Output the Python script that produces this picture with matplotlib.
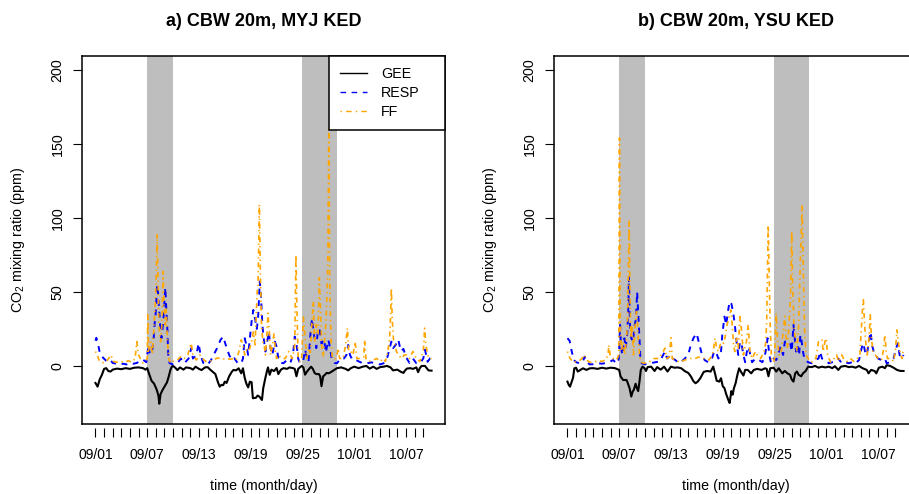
import pandas as pd
import matplotlib.pyplot as plt
from matplotlib.lines import Line2D

plt.rcParams['font.family'] = ['Liberation Sans', 'DejaVu Sans']
plt.rcParams['mathtext.fontset'] = 'custom'
plt.rcParams['mathtext.rm'] = 'Liberation Sans'
plt.rcParams['mathtext.default'] = 'rm'

# time axis: days since 09/01 00:00 (hourly run ends 10/09 23:00)
start = pd.Timestamp('2020-09-01')
t_end = 38.96
tick_days = list(range(39))
label_every = 6
shade_days = [(6, 9), (24, 28)]

# ---- a) CBW 20m, MYJ KED ----
gee_myj_t = [0.0, 0.25, 0.5, 0.75, 1.0, 1.25, 1.5, 1.75, 2.0, 2.5, 3.0, 3.5, 4.0, 4.5, 5.0, 5.5, 5.8,
             6.0, 6.2, 6.5, 6.8, 7.1, 7.3, 7.4, 7.55, 7.8, 8.0, 8.3, 8.5, 8.7, 8.85, 9.0, 9.3, 9.5,
             9.8, 10.2, 10.5, 11.0, 11.3, 11.6, 12.0, 12.3, 12.7, 13.0, 13.3, 13.6, 13.9, 14.2,
             14.4, 14.6, 14.8, 15.0, 15.2, 15.5, 15.8, 16.0, 16.3, 16.6, 16.9, 17.1, 17.3, 17.5,
             17.7, 17.9, 18.1, 18.25, 18.6, 18.8, 19.0, 19.3, 19.45, 19.7, 19.9, 20.0, 20.2, 20.4,
             20.7, 21.0, 21.2, 21.5, 21.8, 22.2, 22.5, 22.9, 23.1, 23.3, 23.5, 23.9, 24.1, 24.3,
             24.5, 24.7, 25.0, 25.2, 25.4, 25.6, 25.9, 26.05, 26.2, 26.4, 26.6, 26.8, 27.0, 27.2,
             27.6, 28.0, 28.5, 29.0, 29.3, 29.6, 30.0, 30.5, 31.0, 31.4, 31.8, 32.2, 32.6, 33.0,
             33.4, 33.8, 34.2, 34.5, 35.0, 35.4, 35.7, 35.9, 36.1, 36.5, 36.8, 37.2, 37.4, 37.6,
             37.8, 38.2, 38.6, 38.96]
gee_myj = [-11.5, -14, -9, -6, -2, -1.5, -3.5, -3.8, -2.5, -1.8, -2.2, -1.5, -2, -1.2, -1, -1.5, -2.5,
           -1.5, -5, -10, -12, -16, -20, -25.5, -19, -16, -14, -11, -7, -2.5, -0.5, 0, -1.5, -2.8,
           -1, -2.5, -1, -1.5, -2.5, -0.5, -2, -2.8, -1, -0.8, -2.5, -4, -5.5, -11,
           -14, -12.8, -13, -10.6, -11.5, -7, -4, -2.7, -3, -1.6, -5, -1.6, -8, -12,
           -14.5, -10.6, -11, -21.8, -21.5, -20, -20.7, -23, -15, -8, -3, -1, -6, -2.5,
           -3.5, -1.4, -5.5, -2.5, -1.5, -2, -1, -1.5, -2, -7, -2, 0, -1, -5.9,
           -4, -2.5, -0.5, -2, -4.7, -5.5, -5.5, -7, -13.7, -7, -6, -4.7, -5, -4.5,
           -3, -1.5, -1, -2, -3, -1.5, -0.5, -1.5, -0.5, 0, -1.8, -0.5, -2, -0.8,
           -0.5, 0, -1, -3, -2.5, -4, -4.7, -3, -1.8, -1.5, -2, -1, -4.2, -1.5,
           0, 0, -3, -3.2]

resp_myj_t = [0.0, 0.1, 0.3, 0.5, 0.9, 1.3, 1.7, 2.0, 2.4, 2.8, 3.2, 3.6, 4.0, 4.4, 4.8, 5.1, 5.5, 5.9,
              6.0, 6.15, 6.3, 6.55, 6.75, 6.85, 7.0, 7.15, 7.25, 7.4, 7.55, 7.65, 7.85, 8.0, 8.1,
              8.2, 8.35, 8.45, 8.6, 9.0, 9.5, 9.9, 10.3, 10.8, 11.1, 11.3, 11.7, 11.95, 12.2, 12.5,
              12.8, 13.0, 13.4, 13.7, 14.1, 14.5, 14.8, 15.1, 15.5, 15.8, 16.1, 16.5, 16.9, 17.1,
              17.3, 17.5, 17.7, 17.9, 18.1, 18.3, 18.5, 18.7, 18.85, 19.05, 19.2, 19.35, 19.5, 19.7,
              19.9, 20.1, 20.3, 20.5, 20.8, 21.0, 21.2, 21.4, 21.8, 22.2, 22.6, 22.9, 23.1, 23.3,
              23.5, 23.7, 24.1, 24.3, 24.5, 24.7, 24.9, 25.1, 25.3, 25.6, 25.8, 26.0, 26.2, 26.5,
              26.7, 27.0, 27.2, 27.4, 27.7, 28.0, 28.4, 28.8, 29.1, 29.3, 29.5, 29.8, 30.2, 30.6,
              31.0, 31.5, 32.0, 32.5, 33.0, 33.4, 33.8, 34.1, 34.3, 34.5, 34.8, 35.1, 35.4, 35.7,
              36.0, 36.4, 36.8, 37.2, 37.6, 38.0, 38.2, 38.5, 38.8, 38.96]
resp_myj = [17, 19, 15, 8.8, 5.4, 3.2, 4.3, 2, 1.5, 1, 1.5, 1, 2, 1.5, 2, 3.2, 4.3, 2.5,
            7.4, 14, 8, 9, 18.7, 27.7, 36.7, 55, 50, 36.7, 23, 18.7, 29, 43, 53,
            40, 23, 5, 1.8, 1.1, 1.8, 5, 1.8, 5, 12, 5, 7, 15.3, 7, 2,
            1, 0.7, 4, 7.4, 12, 17.6, 19.8, 14.2, 7.4, 4, 5.2, 1.8, 1.8, 5,
            18.7, 14, 7.4, 18.7, 30, 37.8, 32, 25, 32, 57, 45.7, 27.7, 18.7, 9.7,
            16.4, 23, 12, 7.4, 16.4, 13, 5, 2.2, 1.8, 4, 2.2, 7.4, 19.8, 15,
            5, 1.8, 4, 11, 6, 3, 20, 32, 22, 12, 25, 24, 15, 18,
            9, 17.6, 12, 4, 2, 1.8, 5, 5, 7.4, 14.2, 7.4, 4, 4, 2.8,
            1.8, 1.8, 2.4, 1.8, 1, 1.8, 5, 12, 16.4, 12, 14.2, 17.8, 10, 11.5,
            6, 2, 5, 1.8, 1.8, 5, 11, 2.8, 5.2, 5.2]

ff_myj_t = [0.0, 0.2, 0.4, 0.7, 1.0, 1.4, 1.8, 2.1, 2.5, 3.0, 3.4, 3.8, 4.2, 4.6, 4.8, 4.95, 5.2, 5.5,
            5.8, 6.0, 6.07, 6.15, 6.4, 6.6, 6.8, 6.95, 7.05, 7.15, 7.25, 7.35, 7.55, 7.7, 7.85,
            7.95, 8.1, 8.2, 8.35, 8.5, 8.7, 9.0, 9.5, 9.9, 10.3, 10.7, 11.1, 11.3, 11.7, 12.1,
            12.4, 12.8, 13.2, 13.6, 14.0, 14.4, 14.8, 15.2, 15.6, 16.0, 16.3, 16.6, 16.9, 17.1,
            17.3, 17.5, 17.7, 17.9, 18.1, 18.3, 18.5, 18.65, 18.75, 18.85, 19.0, 19.12, 19.25,
            19.4, 19.55, 19.7, 19.85, 20.0, 20.15, 20.3, 20.5, 20.7, 20.85, 21.0, 21.2, 21.6,
            22.0, 22.4, 22.6, 22.8, 23.0, 23.1, 23.24, 23.35, 23.5, 23.7, 23.9, 24.1, 24.3, 24.5,
            24.7, 24.9, 25.1, 25.25, 25.4, 25.6, 25.8, 25.95, 26.1, 26.25, 26.4, 26.55, 26.7,
            26.85, 26.95, 27.05, 27.15, 27.3, 27.45, 27.8, 28.0, 28.15, 28.3, 28.7, 29.0, 29.2,
            29.35, 29.6, 29.85, 30.1, 30.3, 30.7, 31.1, 31.2, 31.35, 31.7, 32.2, 32.6, 33.0,
            33.4, 33.6, 33.9, 34.1, 34.2, 34.3, 34.4, 34.55, 34.7, 34.9, 35.1, 35.5, 35.8, 36.1,
            36.4, 36.8, 37.0, 37.2, 37.6, 38.0, 38.1, 38.15, 38.3, 38.5, 38.7, 38.96]
ff_myj = [9.7, 8, 4, 2.5, 2, 4, 7.4, 3, 2.5, 2.8, 2.5, 3.5, 2.5, 5, 16.4, 8, 5, 2,
          3.5, 5, 34.5, 10, 16, 8, 27.7, 45, 61, 88.5, 61, 27.7, 16.4, 27.7, 63.7,
          41, 27.7, 39, 16.4, 5, 1.8, 3, 4, 6.3, 5, 7.4, 15.3, 7.4, 4, 7.4,
          5, 3, 3, 4, 5, 5.5, 4.7, 5, 4.5, 5, 4, 9, 17.6, 14.2,
          7.4, 10.8, 9.7, 12, 16.4, 23, 14.2, 36.7, 50, 54.7, 109, 61.5, 27.7,
          16.4, 14.2, 7.4, 18.7, 35.6, 23, 7.4, 14.2, 22, 9.7, 5, 7.4, 5,
          5, 9.7, 7.4, 5, 9.7, 14.2, 75, 39, 5, 2.9, 5, 33, 18.7, 5,
          12, 9, 30, 43.7, 16, 27.7, 21, 59.5, 37, 10, 6, 16.4, 27.7,
          48, 80, 160, 60, 18, 5, 5, 7.4, 12, 5, 5, 14.2, 25.5,
          9.7, 9.7, 7.4, 16.4, 5, 5, 6, 17.6, 5, 3, 4, 5, 3,
          5, 3, 9.7, 18.7, 32, 52.5, 32, 17.6, 14.2, 9.7, 7.4, 5, 7.4, 7.4,
          5, 9.7, 7.4, 5, 3, 9.7, 18.7, 25.5, 14.2, 7.4, 5, 5]

# ---- b) CBW 20m, YSU KED ----
gee_ysu_t = [0.0, 0.15, 0.3, 0.5, 0.65, 0.8, 1.0, 1.2, 1.5, 1.8, 2.2, 2.6, 3.0, 3.5, 4.0, 4.5, 5.0, 5.5,
             6.0, 6.15, 6.45, 6.85, 7.0, 7.2, 7.4, 7.55, 7.7, 7.9, 8.05, 8.2, 8.35, 8.5, 8.7,
             8.95, 9.1, 9.3, 9.7, 10.1, 10.4, 10.8, 11.2, 11.6, 12.0, 12.4, 12.8, 13.2, 13.6,
             14.0, 14.3, 14.6, 14.85, 15.1, 15.4, 15.8, 16.2, 16.6, 16.9, 17.1, 17.3, 17.6, 17.8,
             18.0, 18.2, 18.4, 18.65, 18.8, 19.0, 19.15, 19.3, 19.5, 19.7, 19.9, 20.1, 20.4,
             20.6, 20.9, 21.3, 21.6, 22.0, 22.5, 22.9, 23.1, 23.3, 23.5, 23.9, 24.2, 24.5, 24.9,
             25.2, 25.5, 25.8, 26.0, 26.2, 26.4, 26.6, 26.8, 27.1, 27.3, 27.6, 27.9, 28.3, 28.7,
             29.1, 29.5, 29.9, 30.3, 30.7, 31.0, 31.4, 31.7, 32.2, 32.6, 33.0, 33.4, 33.8, 34.2,
             34.7, 34.9, 35.2, 35.6, 35.8, 36.1, 36.5, 36.8, 37.0, 37.4, 37.8, 38.2, 38.6, 38.96]
gee_ysu = [-10.6, -12.8, -14, -10.6, -8, -1.6, -1.2, -3.8, -2.7, -1.6, -2.7, -1.6, -1.5, -2, -1.2, -1.8, -1.2, -1.5,
           -2.7, -7, -9.5, -9.5, -11.7, -15, -20.7, -17.5, -16, -12, -15, -17, -10.6, -2.7, -0.5,
           -1.6, -3.4, -0.8, -0.5, -3.4, -0.8, -2.5, -0.5, -3.8, -0.5, -1.2, -1, -1.6, -3.5,
           -4.7, -7, -10.3, -11.7, -10.6, -8.3, -4, -3.4, -3.8, -0.5, -5, -10, -10.6, -8.3,
           -13.7, -15, -19, -23, -25, -17, -19.4, -15, -11.5, -6, -1.6, -3.8, -6.5,
           -2.7, -2.7, -5, -2.7, -2, -2.7, -1.6, -2, -7, -1.6, -1.2, -3.8, -1.6, -5,
           -3.4, -5, -6, -9.2, -10.6, -5, -3.8, -6, -7, -5, -3.5, -0.5, -0.8, 0,
           -1.2, -0.5, -1, -0.5, -1.5, -0.2, -2.7, -0.5, 0, -0.8, -0.5, -1.2, 0, -1.5,
           -2.7, -5, -2.7, -3.4, -5, -1.2, -0.5, -1.5, 0.5, 0, -1.2, -2.7, -3.4, -3.4]

resp_ysu_t = [0.0, 0.25, 0.5, 0.75, 1.0, 1.4, 1.75, 2.0, 2.2, 2.6, 3.0, 3.5, 4.0, 4.5, 4.9, 5.3, 5.7,
              5.95, 6.1, 6.2, 6.35, 6.6, 6.75, 6.95, 7.07, 7.12, 7.25, 7.4, 7.6, 7.8, 7.95, 8.08,
              8.2, 8.35, 8.45, 8.6, 9.0, 9.6, 10.2, 10.7, 11.1, 11.3, 11.55, 11.8, 12.0, 12.2,
              12.5, 12.9, 13.2, 13.6, 14.0, 14.3, 14.6, 14.97, 15.3, 15.6, 15.9, 16.3, 16.7, 17.0,
              17.2, 17.5, 17.8, 17.95, 18.2, 18.4, 18.6, 18.8, 19.0, 19.2, 19.4, 19.6, 19.8, 20.0,
              20.2, 20.4, 20.6, 20.8, 21.0, 21.2, 21.4, 21.8, 22.2, 22.6, 22.9, 23.1, 23.2, 23.4,
              23.6, 23.9, 24.2, 24.4, 24.7, 25.0, 25.2, 25.5, 25.8, 26.0, 26.2, 26.35, 26.5, 26.65,
              26.85, 27.0, 27.15, 27.3, 27.5, 27.9, 28.3, 28.7, 29.1, 29.3, 29.5, 29.9, 30.3, 30.7,
              31.1, 31.4, 31.8, 32.2, 32.6, 33.0, 33.4, 33.8, 34.0, 34.2, 34.3, 34.5, 34.7, 35.0,
              35.15, 35.3, 35.5, 35.7, 36.0, 36.4, 36.8, 37.0, 37.4, 37.8, 38.1, 38.3, 38.5,
              38.75, 38.96]
resp_ysu = [18.7, 17, 9.7, 4, 2.5, 1.8, 2.5, 6.3, 2.5, 1, 1.2, 1.8, 1.5, 2, 2.8, 4, 1.5,
            4.7, 27.7, 14, 7.4, 18.7, 12, 23, 41, 60, 27.7, 18.7, 16.4, 27.7, 32, 50,
            36.7, 18.7, 5, 1.8, 1.1, 1.8, 2.5, 3, 7.4, 9.7, 5, 6.3, 7.4, 5,
            4, 2, 2.8, 5, 7.4, 14.2, 18.7, 22, 14.2, 7.4, 4, 2.5, 4, 9.7,
            9.7, 5, 9.7, 21, 33.3, 27.7, 36.7, 43.5, 42, 36.7, 27.7, 16.4, 7.4, 16.4,
            14.2, 7.4, 2.5, 9.7, 13, 7.4, 2.5, 5, 4, 2.5, 7.4, 14.2, 18.7, 7.4,
            1.8, 5, 4, 7.4, 13, 7.4, 16.4, 16.4, 16.4, 9.7, 27.7, 18.7, 9.7, 14.2,
            7, 21, 16.4, 9.7, 4, 2.5, 1.8, 4, 5, 9.7, 5, 4, 1.8, 2.5,
            2.8, 5, 1.8, 2.5, 1.8, 2.5, 1.8, 4, 9.7, 14.2, 15.3, 9.7, 7.4, 18.7,
            23, 14.2, 9.7, 7.4, 5, 4, 5, 1.8, 2.5, 5, 12, 15.3, 7.4,
            5, 7.4]

ff_ysu_t = [0.0, 0.3, 0.7, 1.1, 1.5, 2.0, 2.2, 2.6, 3.0, 3.6, 4.0, 4.4, 4.7, 4.8, 4.95, 5.3, 5.7, 5.95,
            6.03, 6.12, 6.25, 6.45, 6.65, 6.85, 6.95, 7.05, 7.15, 7.25, 7.35, 7.5, 7.65, 7.85,
            8.0, 8.1, 8.2, 8.35, 8.5, 8.9, 9.5, 10.0, 10.6, 11.1, 11.3, 11.5, 11.8, 12.0, 12.15,
            12.5, 13.0, 13.6, 14.2, 14.8, 15.2, 15.6, 16.0, 16.4, 16.8, 16.95, 17.1, 17.3, 17.5,
            17.7, 17.9, 18.1, 18.3, 18.5, 18.7, 18.95, 19.1, 19.25, 19.4, 19.6, 19.8, 20.0, 20.2,
            20.4, 20.55, 20.75, 20.95, 21.15, 21.4, 21.8, 22.0, 22.4, 22.6, 22.8, 23.0, 23.1,
            23.27, 23.38, 23.5, 23.65, 23.9, 24.0, 24.2, 24.35, 24.55, 24.75, 25.0, 25.2, 25.35,
            25.5, 25.7, 25.85, 26.0, 26.1, 26.25, 26.45, 26.6, 26.8, 27.0, 27.2, 27.35, 27.5,
            27.65, 27.9, 28.3, 28.6, 28.8, 29.1, 29.3, 29.5, 29.65, 29.85, 30.0, 30.15, 30.5,
            30.9, 31.2, 31.4, 31.8, 32.0, 32.4, 32.8, 33.2, 33.6, 33.9, 34.1, 34.2, 34.3, 34.45,
            34.6, 34.75, 34.95, 35.1, 35.25, 35.4, 35.7, 36.0, 36.4, 36.6, 36.8, 36.95, 37.1,
            37.5, 37.8, 38.0, 38.2, 38.4, 38.6, 38.8, 38.96]
ff_ysu = [9.7, 5, 2.5, 3, 4, 7.4, 4, 2.5, 2.5, 3.5, 3, 4, 7.4, 14.2, 7.4, 5, 4, 7.4,
          153.8, 27.7, 9.7, 16.4, 7.4, 18.7, 27.7, 60, 97.5, 50, 18.7, 27.7, 7.4, 27.7,
          36.7, 32, 18.7, 7.4, 2.5, 1.8, 2.8, 5, 5, 9.7, 12, 5, 6, 19, 5,
          4, 2.5, 4, 5, 5, 6, 5, 5, 4, 7.4, 12, 18.7, 12, 9.7,
          14.2, 16.4, 15.3, 20, 27.7, 32, 37.8, 27.7, 14.2, 9.7, 18.7, 12, 33.3, 23,
          7.4, 12, 16.4, 27.7, 9.7, 5, 9.7, 7.4, 5, 7.4, 9.7, 16.4, 32,
          95, 61.5, 27.7, 5, 2.5, 5, 35.8, 16.4, 7.4, 7.4, 23, 33.5, 18.7,
          12, 30, 45, 91, 55, 27.7, 16.4, 9.7, 27.7, 72, 108, 61.5, 23,
          7.4, 5, 2.5, 5, 5, 16.4, 17.6, 17.6, 9.7, 16.4, 18.7, 7.4, 2.5,
          5, 7.4, 3, 7.4, 5, 3, 5, 3, 5, 7.4, 27.7, 39, 44.6, 27.7,
          14.2, 7.4, 18.7, 34.5, 18.7, 9.7, 7.4, 5, 4, 9.7, 21, 9.7, 5,
          5, 3, 9.7, 24.3, 14.2, 7.4, 5, 12]

panels = [
    ('a) CBW 20m, MYJ KED', gee_myj_t, gee_myj, resp_myj_t, resp_myj, ff_myj_t, ff_myj, True),
    ('b) CBW 20m, YSU KED', gee_ysu_t, gee_ysu, resp_ysu_t, resp_ysu, ff_ysu_t, ff_ysu, False),
]

fs = 10.3
W, H = 909, 494
fig = plt.figure(figsize=(W / 100, H / 100), dpi=100)

lefts = [82, 554]
for (title, gt, gv, rt, rv, ft, fv, show_leg), left in zip(panels, lefts):
    ax = fig.add_axes([left / W, (H - 424) / H, 363 / W, 368 / H])
    for s0, s1 in shade_days:
        ax.axvspan(s0, s1, color='#BEBEBE', lw=0, zorder=0)
    ax.plot(gt, gv, color='black', lw=1.5, zorder=2)
    ax.plot(rt, rv, color='blue', lw=1.4, linestyle=(0, (3, 3)), zorder=3)
    ax.plot(ft, fv, color='orange', lw=1.2, linestyle=(0, (0.8, 2.2, 3, 2.2)), zorder=4)

    pad_x = 0.04 * t_end
    ax.set_xlim(-pad_x, t_end + pad_x)
    ax.set_ylim(-30 - 0.04 * 230, 200 + 0.04 * 230)

    ax.set_xticks(tick_days)
    ax.set_xticklabels([(start + pd.Timedelta(days=d)).strftime('%m/%d') if d % label_every == 0 else ''
                        for d in tick_days], fontsize=fs)
    ax.set_yticks([0, 50, 100, 150, 200])
    ax.set_yticklabels(['0', '50', '100', '150', '200'], rotation=90, va='center', fontsize=fs)
    ax.tick_params(axis='x', direction='out', length=6.5, width=0.8, pad=7.5)
    ax.tick_params(axis='y', direction='out', length=6.5, width=0.8, pad=6)

    # frame drawn separately so the x ticks can sit a little below it
    for side in ['left', 'top', 'right']:
        ax.spines[side].set_linewidth(1.1)
    ax.spines['bottom'].set_position(('outward', 3))
    ax.spines['bottom'].set_visible(False)
    ax.plot([0, 1], [0, 0], transform=ax.transAxes, color='black', lw=1.1, clip_on=False, zorder=6)

    cx = (left + 181.5) / W
    fig.text(cx, 1 - 21.5 / H, title, ha='center', va='center', fontsize=13, fontweight='bold')
    fig.text(cx, 1 - 486 / H, 'time (month/day)', ha='center', va='center', fontsize=fs)
    fig.text((left - 64) / W, 1 - 240 / H, r'CO$_2$ mixing ratio (ppm)', rotation=90,
             ha='center', va='center', fontsize=fs)

    if show_leg:
        handles = [Line2D([], [], color='black', lw=1),
                   Line2D([], [], color='blue', lw=1, linestyle=(0, (4, 4))),
                   Line2D([], [], color='orange', lw=1, linestyle=(0, (1, 3, 4, 3)))]
        leg = ax.legend(handles, ['GEE', 'RESP', 'FF'], loc='upper right',
                        bbox_to_anchor=(0.68, 0, 0.32, 1.0), mode='expand', borderaxespad=0,
                        fancybox=False, framealpha=1, edgecolor='black', fontsize=fs,
                        handlelength=1.9, handletextpad=0.95, borderpad=0.8, labelspacing=0.32)
        leg.get_frame().set_linewidth(1.1)
        leg.set_zorder(10)

fig.savefig('out.png', dpi=100)
